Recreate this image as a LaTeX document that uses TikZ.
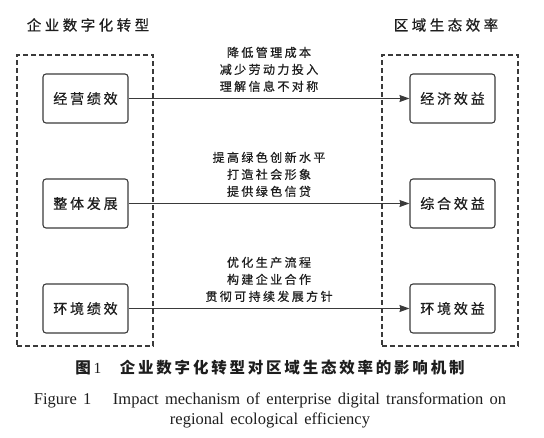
\documentclass[tikz,border=0pt]{standalone}
\usepackage{fontspec}
\setmainfont{Liberation Serif}
\newfontfamily\cjk[LetterSpace=20,FakeBold=0.6]{Noto Sans CJK SC}
\newfontfamily\cjkhead[LetterSpace=24,FakeBold=0.6]{Noto Sans CJK SC}
\newfontfamily\cjkcap[LetterSpace=18]{Noto Sans CJK SC}
\newcommand\widespaces{\spaceskip=0.38em plus 0.1em\relax}
\usetikzlibrary{positioning, arrows.meta}
\definecolor{linegray}{HTML}{3A3A3A}
\definecolor{txtgray}{HTML}{1E1E1E}

\begin{document}
\begin{tikzpicture}[x=1pt,y=-1pt,->,>={Stealth[length=10pt,width=7pt,inset=1pt]},semithick,node distance=105pt,text=txtgray]
                \tikzstyle{box}=[draw=linegray,line width=1.1pt,rounded corners=3pt,minimum width=85pt,minimum height=49pt,inner sep=0pt,font=\fontsize{14}{16}\cjk]
                \tikzstyle{frame}=[draw=linegray,dash pattern=on 5pt off 3pt,line width=1.1pt,minimum width=136pt,minimum height=291pt,inner sep=0pt]
                \tikzstyle{head}=[font=\fontsize{14.5}{16}\cjkhead]
                \tikzstyle{why}=[midway,above=6pt,inner sep=0pt,align=center,font=\fontsize{12}{17}\cjk]
                \tikzstyle{flow}=[draw=linegray,line width=1.1pt]
                \useasboundingbox (0,0) rectangle (544,437);

                \node[frame]    (firm)      at (85,200.5)    {};
                \node[frame]    (region)    at (450,200.5)   {};
                \node[head]     (firmhead)  at (88,25)       {企业数字化转型};
                \node[head]     (regionhead) at (446,25)     {区域生态效率};

                \node[box]      (jy)        at (85.5,98.5)   {经营绩效};
                \node[box]      (zt)        [below of=jy]    {整体发展};
                \node[box]      (hj)        [below of=zt]    {环境绩效};
                \node[box]      (jj)        at (452.5,98.5)  {经济效益};
                \node[box]      (zh)        [below of=jj]    {综合效益};
                \node[box]      (hb)        [below of=zh]    {环境效益};

                \path
                (jy) edge[flow]     node[why]{降低管理成本\\减少劳动力投入\\理解信息不对称}        (jj)
                (zt) edge[flow]     node[why]{提高绿色创新水平\\打造社会形象\\提供绿色信贷}        (zh)
                (hj) edge[flow]     node[why]{优化生产流程\\构建企业合作\\贯彻可持续发展方针}      (hb);

                \node[font=\fontsize{15.5}{18}\cjkcap\bfseries] (capzh) at (270,368)
                    {图\,{\rmfamily\mdseries 1}\hspace{1.2em}企业数字化转型对区域生态效率的影响机制};
                \node[align=center,font=\fontsize{16.5}{20}\selectfont\widespaces] (capen) at (270,410)
                    {Figure 1\hspace{1.3em}Impact mechanism of enterprise digital transformation on\\regional ecological efficiency};
            \end{tikzpicture}
\end{document}
